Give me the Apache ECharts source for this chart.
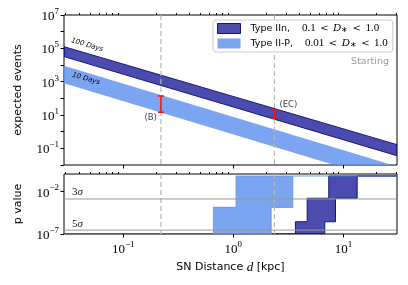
<!DOCTYPE html>
<html><head><meta charset="utf-8">
<script src="https://cdn.jsdelivr.net/npm/echarts@6/dist/echarts.min.js"></script>
<style>html,body{margin:0;padding:0;background:#fff}#c{width:408px;height:285px}</style>
</head><body><div id="c"></div>
<script>
// ---------------- data ----------------
const xRange = [0.029, 30.6];                 // SN distance range (kpc)
const bandDist = [0.029, 30.6];               // distances where band edges were read
const iinUpper = [1.26e5, 0.166];             // Type IIn, D* = 1.0
const iinLower = [3.2e4, 0.036];              // Type IIn, D* = 0.1
const iipUpper = [9.1e3, 0.0082];             // Type II-P, D* = 1.0
const iipLower = [8.1e2, 0.00073];            // Type II-P, D* = 0.01
const markerDist = [0.22, 2.36];
const markerNames = ['(B)', '(EC)'];
const markerLow = [14.5, 6.3];
const markerHigh = [138, 20];
const curveLabels = ['100 Days', '10 Days'];
const curveLabelDist = [0.047, 0.046];
const curveLabelEvents = [1.6e5, 1.5e3];
// p-value step bands
const iipPUpperEdges = [0.029, 0.66, 1.06, 30.6];
const iipPUpperLevels = [1e-7, 1.4e-4, 0.7];
const iipPLowerEdges = [0.029, 2.2, 3.46, 30.6];
const iipPLowerLevels = [1e-7, 1.4e-4, 0.7];
const iinPUpperEdges = [0.029, 3.66, 4.68, 7.35, 30.6];
const iinPUpperLevels = [1e-7, 2.8e-6, 1.65e-3, 0.7];
const iinPLowerEdges = [0.029, 6.76, 8.46, 13.3, 30.6];
const iinPLowerLevels = [1e-7, 2.8e-6, 1.65e-3, 0.7];
const sigmaLevels = [1.35e-3, 2.87e-7];
const sigmaNames = ['3', '5'];
// ticks
const xMajorTicks = [0.1, 1, 10];
const xMinorTicks = [0.03,0.04,0.05,0.06,0.07,0.08,0.09,0.2,0.3,0.4,0.5,0.6,0.7,0.8,0.9,2,3,4,5,6,7,8,9,20,30];
const yTopTicks = [1e-2,1e-1,1,1e1,1e2,1e3,1e4,1e5,1e6,1e7];
const yTopLabels = [1e-1,1e1,1e3,1e5,1e7];
const yBotTicks = [1e-7, 1e-2];
const legendNames = ['Type IIn', 'Type II-P'];
const legendRanges = [['0.1', '1.0'], ['0.01', '1.0']];

// ---------------- styles ----------------
const DARK_FILL = 'rgba(0,0,139,0.7)';
const DARK_EDGE = '#14147a';
const LIGHT_FILL = 'rgba(100,149,237,0.85)';
const SERIF = 'Liberation Serif';
const SANS = 'DejaVu Sans';

function powLabel(v) {
  const e = Math.round(Math.log10(v));
  return '{b|10}{s|' + (e < 0 ? '\u2212' + (-e) : e) + '}';
}
const powRich = {
  b: {fontFamily: SERIF, fontSize: 13, lineHeight: 16, verticalAlign: 'bottom', color: '#000'},
  s: {fontFamily: SERIF, fontSize: 9, lineHeight: 6, verticalAlign: 'top', color: '#000'}
};

function stepPts(edges, levels) {
  const p = [];
  for (let i = 0; i < levels.length; i++) {
    p.push([edges[i], levels[i]]);
    p.push([edges[i + 1], levels[i]]);
  }
  return p;
}

function bandPolygon(upperPts, lowerPts, style) {
  return function (params, api) {
    const pts = upperPts.map(p => api.coord(p));
    const lo = lowerPts.map(p => api.coord(p)).reverse();
    return {type: 'polygon', shape: {points: pts.concat(lo)}, style: style};
  };
}

const iinTop = bandDist.map((d, i) => [d, iinUpper[i]]);
const iinBot = bandDist.map((d, i) => [d, iinLower[i]]);
const iipTop = bandDist.map((d, i) => [d, iipUpper[i]]);
const iipBot = bandDist.map((d, i) => [d, iipLower[i]]);

function vLines(params, api) {
  const cs = params.coordSys;
  const x = api.coord([api.value(0), 1])[0];
  return {type: 'line', shape: {x1: x, y1: cs.y, x2: x, y2: cs.y + cs.height},
    style: {stroke: '#b8b8b8', lineWidth: 1.2, lineDash: [5, 3]}};
}

const xAxisBase = (grid, ticks, len, showLabels) => ({
  type: 'log', gridIndex: grid, min: xRange[0], max: xRange[1], logBase: 10,
  axisLine: {show: false}, splitLine: {show: false}, minorTick: {show: false},
  axisTick: {show: true, inside: false, length: len, customValues: ticks, lineStyle: {color: '#000', width: 1}},
  axisLabel: showLabels ? {show: true, customValues: xMajorTicks, formatter: powLabel, rich: powRich, margin: 6} : {show: false}
});

const option = {
  animation: false,
  backgroundColor: '#fff',
  grid: [
    {left: 64, right: 11, top: 15, height: 150, show: true, borderColor: '#000', borderWidth: 1, backgroundColor: 'transparent'},
    {left: 64, right: 11, top: 174, height: 60, show: true, borderColor: '#000', borderWidth: 1, backgroundColor: 'transparent'}
  ],
  xAxis: [
    xAxisBase(0, xMajorTicks, 3.5, false),
    xAxisBase(0, xMinorTicks, 2, false),
    Object.assign(xAxisBase(1, xMajorTicks, 3.5, true), {
      name: '{a|SN Distance }{i|d}{a| [kpc]}', nameLocation: 'middle', nameGap: 27,
      nameTextStyle: {rich: {a: {fontFamily: SANS, fontSize: 11, color: '#000'}, i: {fontFamily: SERIF, fontStyle: 'italic', fontSize: 13, color: '#000'}}}
    }),
    xAxisBase(1, xMinorTicks, 2, false)
  ],
  yAxis: [
    {type: 'log', gridIndex: 0, min: 1e-2, max: 1e7, logBase: 10,
     axisLine: {show: false}, splitLine: {show: false}, minorTick: {show: false},
     axisTick: {show: true, length: 3.5, customValues: yTopTicks, lineStyle: {color: '#000'}},
     axisLabel: {show: true, customValues: yTopLabels, formatter: powLabel, rich: powRich, margin: 5},
     name: 'expected events', nameLocation: 'middle', nameGap: 40,
     nameTextStyle: {fontFamily: SANS, fontSize: 11, color: '#000'}},
    {type: 'log', gridIndex: 1, min: 1e-7, max: 1.2, logBase: 10,
     axisLine: {show: false}, splitLine: {show: false}, minorTick: {show: false},
     axisTick: {show: true, length: 3.5, customValues: yBotTicks, lineStyle: {color: '#000'}},
     axisLabel: {show: true, customValues: yBotTicks, formatter: powLabel, rich: powRich, margin: 5},
     name: 'p value', nameLocation: 'middle', nameGap: 40,
     nameTextStyle: {fontFamily: SANS, fontSize: 11, color: '#000'}}
  ],
  legend: {
    left: 213, top: 20, orient: 'vertical', z: 20, selectedMode: false,
    itemWidth: 23, itemHeight: 10, itemGap: 4, padding: [3, 5, 3, 4],
    backgroundColor: 'rgba(255,255,255,0.8)', borderColor: '#cccccc', borderWidth: 1, borderRadius: 3,
    data: [
      {name: legendNames[0], icon: 'rect', itemStyle: {color: DARK_FILL, borderColor: DARK_EDGE, borderWidth: 1}},
      {name: legendNames[1], icon: 'rect', itemStyle: {color: LIGHT_FILL, borderWidth: 0}}
    ],
    formatter: function (name) {
      const i = legendNames.indexOf(name);
      const r = legendRanges[i];
      return '{sp|}{t|' + name + ',}{g2|}{m|' + r[0] + '}{g|}{lt|<}{g|}{i|D}{sub|\u2217}{g|}{lt|<}{g|}{m|' + r[1] + '}';
    },
    textStyle: {
      fontFamily: SANS, fontSize: 9.5, color: '#000',
      rich: {
        sp: {width: 5},
        g2: {width: 12},
        g: {width: 4.5},
        t: {fontFamily: SANS, fontSize: 9.5, color: '#000'},
        m: {fontFamily: SERIF, fontSize: 11, color: '#000'},
        lt: {fontFamily: 'DejaVu Serif', fontSize: 10, color: '#000'},
        i: {fontFamily: SERIF, fontStyle: 'italic', fontSize: 11, color: '#000'},
        sub: {fontFamily: SERIF, fontSize: 8, color: '#000', verticalAlign: 'bottom', lineHeight: 8}
      }
    }
  },
  graphic: [
    {type: 'text', right: 19, top: 57, style: {text: 'Starting', fill: '#999999', font: '9.5px "DejaVu Sans"'}}
  ],
  series: [
    {type: 'custom', name: legendNames[0], xAxisIndex: 0, yAxisIndex: 0, clip: true, z: 2,
     itemStyle: {color: DARK_FILL},
     data: [iinTop[0]],
     renderItem: bandPolygon(iinTop, iinBot, {fill: DARK_FILL, stroke: DARK_EDGE, lineWidth: 1})},
    {type: 'custom', name: legendNames[1], xAxisIndex: 0, yAxisIndex: 0, clip: true, z: 2,
     itemStyle: {color: LIGHT_FILL},
     data: [iipTop[0]],
     renderItem: bandPolygon(iipTop, iipBot, {fill: LIGHT_FILL, stroke: null, lineWidth: 0})},
    // p-value bands
    {type: 'custom', name: 'pIIn', xAxisIndex: 2, yAxisIndex: 1, clip: true, z: 2,
     data: [[iinPUpperEdges[0], iinPUpperLevels[0]]],
     renderItem: bandPolygon(stepPts(iinPUpperEdges, iinPUpperLevels), stepPts(iinPLowerEdges, iinPLowerLevels),
       {fill: DARK_FILL, stroke: DARK_EDGE, lineWidth: 1})},
    {type: 'custom', name: 'pIIP', xAxisIndex: 2, yAxisIndex: 1, clip: true, z: 2,
     data: [[iipPUpperEdges[0], iipPUpperLevels[0]]],
     renderItem: bandPolygon(stepPts(iipPUpperEdges, iipPUpperLevels), stepPts(iipPLowerEdges, iipPLowerLevels),
       {fill: LIGHT_FILL, stroke: LIGHT_FILL, lineWidth: 1.2})},
    // dashed verticals
    {type: 'custom', name: 'vtop', xAxisIndex: 0, yAxisIndex: 0, z: 3,
     data: markerDist.map(d => [d, 1]), renderItem: vLines},
    {type: 'custom', name: 'vbot', xAxisIndex: 2, yAxisIndex: 1, z: 3,
     data: markerDist.map(d => [d, 1e-3]), renderItem: vLines},
    // sigma lines
    {type: 'custom', name: 'sigma', xAxisIndex: 2, yAxisIndex: 1, z: 3,
     data: sigmaLevels.map((v, i) => [xRange[0], v, i]),
     renderItem: function (params, api) {
       const cs = params.coordSys;
       const y = api.coord([xRange[0], api.value(1)])[1];
       const i = api.value(2);
       return {type: 'group', children: [
         {type: 'line', shape: {x1: cs.x, y1: y, x2: cs.x + cs.width, y2: y},
          style: {stroke: '#999999', lineWidth: 1}},
         {type: 'text', x: cs.x + 8, y: y - 1,
          style: {text: '{n|' + sigmaNames[i] + '}{g|\u03c3}', verticalAlign: 'bottom', align: 'left',
            rich: {n: {fontFamily: SERIF, fontSize: 11, fill: '#222'}, g: {fontFamily: SERIF, fontStyle: 'italic', fontSize: 11, fill: '#222'}}}}
       ]};
     }},
    // error bars with labels
    {type: 'custom', name: 'markers', xAxisIndex: 0, yAxisIndex: 0, z: 5,
     data: markerDist.map((d, i) => [d, markerLow[i], markerHigh[i], i]),
     renderItem: function (params, api) {
       const lo = api.coord([api.value(0), api.value(1)]);
       const hi = api.coord([api.value(0), api.value(2)]);
       const i = api.value(3);
       const c = '#ee1111', w = 3;
       const txt = i === 0
         ? {type: 'text', x: lo[0] - 4, y: lo[1] + 5, style: {text: markerNames[i], align: 'right', verticalAlign: 'middle', font: '8.5px "DejaVu Sans"', fill: '#444'}}
         : {type: 'text', x: hi[0] + 5, y: hi[1] - 5, style: {text: markerNames[i], align: 'left', verticalAlign: 'middle', font: '8.5px "DejaVu Sans"', fill: '#444'}};
       return {type: 'group', children: [
         {type: 'line', shape: {x1: lo[0], y1: lo[1], x2: hi[0], y2: hi[1]}, style: {stroke: c, lineWidth: 1.5}},
         {type: 'line', shape: {x1: lo[0] - w, y1: lo[1], x2: lo[0] + w, y2: lo[1]}, style: {stroke: c, lineWidth: 1.5}},
         {type: 'line', shape: {x1: hi[0] - w, y1: hi[1], x2: hi[0] + w, y2: hi[1]}, style: {stroke: c, lineWidth: 1.5}},
         txt
       ]};
     }},
    // curve labels
    {type: 'custom', name: 'curveLabels', xAxisIndex: 0, yAxisIndex: 0, z: 5,
     data: curveLabelDist.map((d, i) => [d, curveLabelEvents[i], i]),
     renderItem: function (params, api) {
       const p = api.coord([api.value(0), api.value(1)]);
       return {type: 'text', x: p[0], y: p[1], rotation: -0.29,
         style: {text: curveLabels[api.value(2)], align: 'center', verticalAlign: 'middle',
           font: 'italic 7px "DejaVu Sans"', fill: '#000'}};
     }}
  ]
};
const chart = echarts.init(document.getElementById('c'), null, {renderer: 'canvas'});
chart.setOption(option);
</script></body></html>
